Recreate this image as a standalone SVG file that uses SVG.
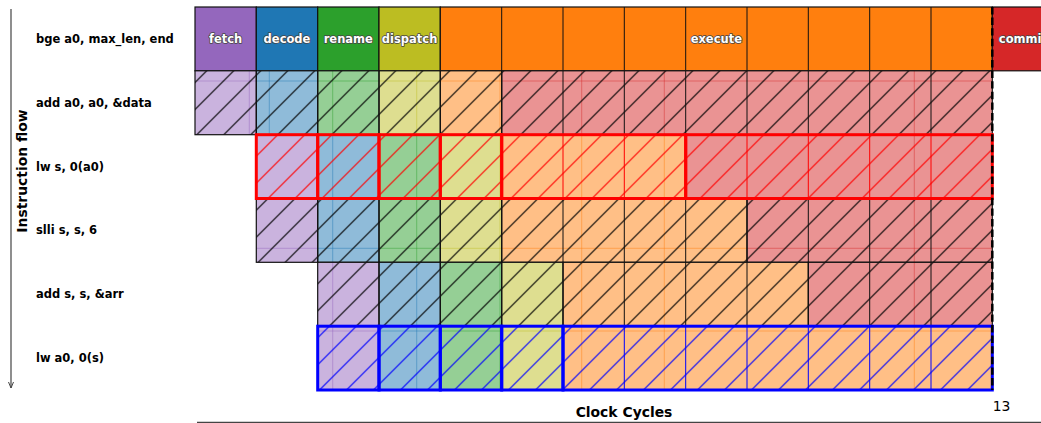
<svg xmlns="http://www.w3.org/2000/svg" width="1041" height="423" viewBox="0 0 1041 423">
<style>
text{font-family:"DejaVu Sans","Noto Sans",sans-serif}
.lbl{font-size:11.5px;font-weight:bold;fill:#000}
.stg{font-size:11.5px;font-weight:bold;fill:#fff;stroke:#444;stroke-width:1.5px;paint-order:stroke;stroke-linejoin:round;text-anchor:middle}
.ax{font-size:13.9px;font-weight:bold;fill:#000;text-anchor:middle}
.tick{font-size:13.9px;fill:#000;text-anchor:middle}
.f{fill:#cab3de}.d{fill:#8fbbd9}.r{fill:#95cf95}.p{fill:#dede90}.e{fill:#ffbf86}.c{fill:#ea9393}
.fl{stroke-width:1;stroke-opacity:0.45;fill:none}
.sf{stroke:#9467bd}.sd{stroke:#1f77b4}.sr{stroke:#2ca02c}.sp{stroke:#bcbd22}.se{stroke:#ff7f0e}.sc{stroke:#d62728}
.bk{fill:none;stroke:#111;stroke-width:1.2}
.bs{stroke:#111;stroke-width:1.2}
.F{fill:#9467bd}.D{fill:#1f77b4}.R{fill:#2ca02c}.P{fill:#bcbd22}.E{fill:#ff7f0e}.C{fill:#d62728}
.bki{stroke:#111;stroke-width:1}
.rd{fill:none;stroke:#ff0000;stroke-width:3}
.rdi{stroke:#ff0000;stroke-width:1}
.bl{fill:none;stroke:#0000ff;stroke-width:3}
.bli{stroke:#0000ff;stroke-width:1}
.hk{fill:url(#hk)}.hr{fill:url(#hr)}.hb{fill:url(#hb)}
</style>
<defs>
<pattern id="hk" patternUnits="userSpaceOnUse" x="7.5" y="0" width="27" height="27">
<path d="M0,27 L27,0 M-3,3 L3,-3 M24,30 L30,24" stroke="#000" stroke-width="1.1"/>
</pattern>
<pattern id="hr" patternUnits="userSpaceOnUse" x="7.5" y="0" width="27" height="27">
<path d="M0,27 L27,0 M-3,3 L3,-3 M24,30 L30,24" stroke="#ff0000" stroke-width="1.1"/>
</pattern>
<pattern id="hb" patternUnits="userSpaceOnUse" x="7.5" y="0" width="27" height="27">
<path d="M0,27 L27,0 M-3,3 L3,-3 M24,30 L30,24" stroke="#0000ff" stroke-width="1.1"/>
</pattern>
<marker id="arr" markerWidth="10" markerHeight="10" refX="7" refY="5" orient="auto" markerUnits="userSpaceOnUse" viewBox="0 0 10 10">
<path d="M1,2.5 L7,5 L1,7.5" fill="none" stroke="#444" stroke-width="1"/>
</marker>
</defs>
<rect width="1041" height="423" fill="#fff"/>

<!-- Row 0: bge -->
<g id="row0">
<g id="r0-fetch"><rect class="F bs" x="195" y="7" width="61.3" height="63.8"/><text class="stg" x="225.6" y="42.8">fetch</text></g>
<g id="r0-decode"><rect class="D bs" x="256.3" y="7" width="61.4" height="63.8"/><text class="stg" x="287" y="42.8">decode</text></g>
<g id="r0-rename"><rect class="R bs" x="317.7" y="7" width="61.3" height="63.8"/><text class="stg" x="348.3" y="42.8">rename</text></g>
<g id="r0-dispatch"><rect class="P bs" x="379" y="7" width="61.3" height="63.8"/><text class="stg" x="409.6" y="42.8">dispatch</text></g>
<g id="r0-execute"><rect class="E bs" x="440.3" y="7" width="552" height="63.8"/>
<path class="bki" d="M501.7,7V70.8M563,7V70.8M624.3,7V70.8M685.7,7V70.8M747,7V70.8M808.3,7V70.8M869.7,7V70.8M931,7V70.8"/>
<text class="stg" x="716.3" y="42.8">execute</text></g>
<g id="r0-commit"><rect class="C bs" x="992.3" y="7" width="55" height="63.8"/><text class="stg" x="1022.9" y="42.8">commit</text></g>
</g>

<!-- Row 1: add a0 -->
<g id="row1">
<rect class="f" x="195" y="70.8" width="61.3" height="63.9"/>
<rect class="d" x="256.3" y="70.8" width="61.4" height="63.9"/>
<rect class="r" x="317.7" y="70.8" width="61.3" height="63.9"/>
<rect class="p" x="379" y="70.8" width="61.3" height="63.9"/>
<rect class="e" x="440.3" y="70.8" width="61.4" height="63.9"/>
<rect class="c" x="501.7" y="70.8" width="490.6" height="63.9"/>
<path class="fl sf" d="M249.3,70.8V134.7M195,81H256.3"/>
<path class="fl sd" d="M269.3,70.8V134.7M256.3,81H317.7"/>
<path class="fl sr" d="M332.7,70.8V134.7M317.7,81H379"/>
<path class="fl sp" d="M416.7,70.8V134.7M379,81H440.3"/>
<path class="fl se" d="M500,70.8V134.7M440.3,81H501.7"/>
<path class="fl sc" d="M581.7,70.8V134.7M664.3,70.8V134.7M914.3,70.8V134.7M501.7,81H992.3"/>
<rect class="hk" x="195" y="70.8" width="797.3" height="63.9"/>
<path class="bki" d="M563,70.8V134.7M624.3,70.8V134.7M685.7,70.8V134.7M747,70.8V134.7M808.3,70.8V134.7M869.7,70.8V134.7M931,70.8V134.7"/>
<g id="r1-fetch"><rect class="bk" x="195" y="70.8" width="61.3" height="63.9"/></g>
<g id="r1-decode"><rect class="bk" x="256.3" y="70.8" width="61.4" height="63.9"/></g>
<g id="r1-rename"><rect class="bk" x="317.7" y="70.8" width="61.3" height="63.9"/></g>
<g id="r1-dispatch"><rect class="bk" x="379" y="70.8" width="61.3" height="63.9"/></g>
<g id="r1-execute"><rect class="bk" x="440.3" y="70.8" width="61.4" height="63.9"/></g>
<g id="r1-commit"><rect class="bk" x="501.7" y="70.8" width="490.6" height="63.9"/></g>
</g>

<!-- Row 3: slli -->
<g id="row3">
<rect class="f" x="256.3" y="198.5" width="61.4" height="63.8"/>
<rect class="d" x="317.7" y="198.5" width="61.3" height="63.8"/>
<rect class="r" x="379" y="198.5" width="61.3" height="63.8"/>
<rect class="p" x="440.3" y="198.5" width="61.4" height="63.8"/>
<rect class="e" x="501.7" y="198.5" width="245.3" height="63.8"/>
<rect class="c" x="747" y="198.5" width="245.3" height="63.8"/>
<path class="fl sf" d="M256.3,248.3H317.7"/>
<path class="fl sd" d="M332.7,198.5V262.3M317.7,248.3H379"/>
<path class="fl sr" d="M416.7,198.5V262.3M379,248.3H440.3"/>
<path class="fl sp" d="M500,198.5V262.3M440.3,248.3H501.7"/>
<path class="fl se" d="M581.7,198.5V262.3M664.3,198.5V262.3M501.7,248.3H747"/>
<path class="fl sc" d="M914.3,198.5V262.3M747,248.3H992.3"/>
<rect class="hk" x="256.3" y="198.5" width="736" height="63.8"/>
<path class="bki" d="M563,198.5V262.3M624.3,198.5V262.3M685.7,198.5V262.3M808.3,198.5V262.3M869.7,198.5V262.3M931,198.5V262.3"/>
<g id="r3-fetch"><rect class="bk" x="256.3" y="198.5" width="61.4" height="63.8"/></g>
<g id="r3-decode"><rect class="bk" x="317.7" y="198.5" width="61.3" height="63.8"/></g>
<g id="r3-rename"><rect class="bk" x="379" y="198.5" width="61.3" height="63.8"/></g>
<g id="r3-dispatch"><rect class="bk" x="440.3" y="198.5" width="61.4" height="63.8"/></g>
<g id="r3-execute"><rect class="bk" x="501.7" y="198.5" width="245.3" height="63.8"/></g>
<g id="r3-commit"><rect class="bk" x="747" y="198.5" width="245.3" height="63.8"/></g>
</g>

<!-- Row 4: add s -->
<g id="row4">
<rect class="f" x="317.7" y="262.3" width="61.3" height="63.9"/>
<rect class="d" x="379" y="262.3" width="61.3" height="63.9"/>
<rect class="r" x="440.3" y="262.3" width="61.4" height="63.9"/>
<rect class="p" x="501.7" y="262.3" width="61.3" height="63.9"/>
<rect class="e" x="563" y="262.3" width="245.3" height="63.9"/>
<rect class="c" x="808.3" y="262.3" width="184" height="63.9"/>
<path class="fl sf" d="M332.7,262.3V326.2"/>
<path class="fl sd" d="M416.7,262.3V326.2"/>
<path class="fl sr" d="M500,262.3V326.2"/>
<path class="fl se" d="M581.7,262.3V326.2M664.3,262.3V326.2"/>
<path class="fl sc" d="M914.3,262.3V326.2"/>
<rect class="hk" x="317.7" y="262.3" width="674.6" height="63.9"/>
<path class="bki" d="M624.3,262.3V326.2M685.7,262.3V326.2M747,262.3V326.2M869.7,262.3V326.2M931,262.3V326.2"/>
<g id="r4-fetch"><rect class="bk" x="317.7" y="262.3" width="61.3" height="63.9"/></g>
<g id="r4-decode"><rect class="bk" x="379" y="262.3" width="61.3" height="63.9"/></g>
<g id="r4-rename"><rect class="bk" x="440.3" y="262.3" width="61.4" height="63.9"/></g>
<g id="r4-dispatch"><rect class="bk" x="501.7" y="262.3" width="61.3" height="63.9"/></g>
<g id="r4-execute"><rect class="bk" x="563" y="262.3" width="245.3" height="63.9"/></g>
<g id="r4-commit"><rect class="bk" x="808.3" y="262.3" width="184" height="63.9"/></g>
</g>

<!-- Row 2: lw s (red highlight) -->
<g id="row2">
<rect class="f" x="256.3" y="134.7" width="61.4" height="63.8"/>
<rect class="d" x="317.7" y="134.7" width="61.3" height="63.8"/>
<rect class="r" x="379" y="134.7" width="61.3" height="63.8"/>
<rect class="p" x="440.3" y="134.7" width="61.4" height="63.8"/>
<rect class="e" x="501.7" y="134.7" width="184" height="63.8"/>
<rect class="c" x="685.7" y="134.7" width="306.6" height="63.8"/>
<path class="fl sd" d="M332.7,134.7V198.5"/>
<path class="fl sr" d="M416.7,134.7V198.5"/>
<path class="fl sp" d="M500,134.7V198.5"/>
<path class="fl se" d="M581.7,134.7V198.5M664.3,134.7V198.5"/>
<path class="fl sc" d="M914.3,134.7V198.5"/>
<rect class="hr" x="256.3" y="134.7" width="736" height="63.8"/>
<path class="rdi" d="M563,134.7V198.5M624.3,134.7V198.5M747,134.7V198.5M808.3,134.7V198.5M869.7,134.7V198.5M931,134.7V198.5"/>
<g id="r2-fetch"><rect class="rd" x="256.3" y="134.7" width="61.4" height="63.8"/></g>
<g id="r2-decode"><rect class="rd" x="317.7" y="134.7" width="61.3" height="63.8"/></g>
<g id="r2-rename"><rect class="rd" x="379" y="134.7" width="61.3" height="63.8"/></g>
<g id="r2-dispatch"><rect class="rd" x="440.3" y="134.7" width="61.4" height="63.8"/></g>
<g id="r2-execute"><rect class="rd" x="501.7" y="134.7" width="184" height="63.8"/></g>
<g id="r2-commit"><rect class="rd" x="685.7" y="134.7" width="306.6" height="63.8"/></g>
</g>

<!-- Row 5: lw a0 (blue highlight) -->
<g id="row5">
<rect class="f" x="317.7" y="326.2" width="61.3" height="63.8"/>
<rect class="d" x="379" y="326.2" width="61.3" height="63.8"/>
<rect class="r" x="440.3" y="326.2" width="61.4" height="63.8"/>
<rect class="p" x="501.7" y="326.2" width="61.3" height="63.8"/>
<rect class="e" x="563" y="326.2" width="429.3" height="63.8"/>
<path class="fl sf" d="M332.7,326.2V390M317.7,331H379"/>
<path class="fl sd" d="M416.7,326.2V390M379,331H440.3"/>
<path class="fl sr" d="M500,326.2V390M440.3,331H501.7"/>
<path class="fl sp" d="M501.7,331H563"/>
<path class="fl se" d="M581.7,326.2V390M664.3,326.2V390M914.3,326.2V390M563,331H992.3"/>
<rect class="hb" x="317.7" y="326.2" width="674.6" height="63.8"/>
<path class="bli" d="M624.3,326.2V390M685.7,326.2V390M747,326.2V390M808.3,326.2V390M869.7,326.2V390M931,326.2V390"/>
<g id="r5-fetch"><rect class="bl" x="317.7" y="326.2" width="61.3" height="63.8"/></g>
<g id="r5-decode"><rect class="bl" x="379" y="326.2" width="61.3" height="63.8"/></g>
<g id="r5-rename"><rect class="bl" x="440.3" y="326.2" width="61.4" height="63.8"/></g>
<g id="r5-dispatch"><rect class="bl" x="501.7" y="326.2" width="61.3" height="63.8"/></g>
<g id="r5-execute"><rect class="bl" x="563" y="326.2" width="429.3" height="63.8"/></g>
</g>

<!-- connectors / axes -->
<g id="connectors">
<line x1="992.3" y1="7" x2="992.3" y2="390" stroke="#000" stroke-width="2.5" stroke-dasharray="7.4,3.2"/>
<line x1="11" y1="9" x2="11" y2="388" stroke="#444" stroke-width="1.2" marker-end="url(#arr)"/>
<line x1="197" y1="422.3" x2="1041" y2="422.3" stroke="#444" stroke-width="1.2"/>
</g>

<g id="labels">
<text class="lbl" x="36" y="42.8">bge a0, max_len, end</text>
<text class="lbl" x="36" y="106.7">add a0, a0, &amp;data</text>
<text class="lbl" x="36" y="170.5">lw s, 0(a0)</text>
<text class="lbl" x="36" y="234.3">slli s, s, 6</text>
<text class="lbl" x="36" y="298.2">add s, s, &amp;arr</text>
<text class="lbl" x="36" y="362">lw a0, 0(s)</text>
<text class="ax" transform="translate(27,171) rotate(-90)">Instruction flow</text>
<text class="ax" x="624" y="416.5">Clock Cycles</text>
<text class="tick" x="1001.5" y="411">13</text>
</g>
</svg>
